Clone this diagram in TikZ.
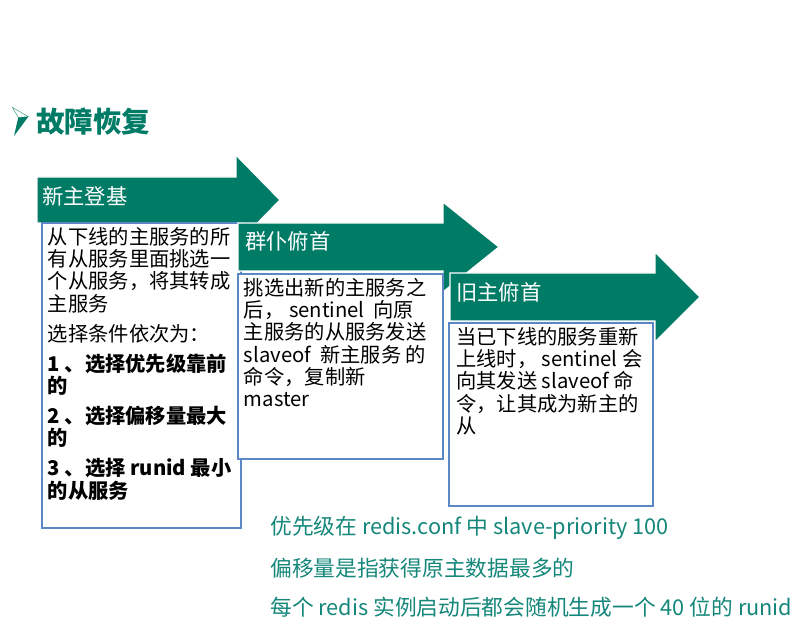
\documentclass[tikz,border=0pt]{standalone}
\usepackage{fontspec}
\setmainfont{Noto Sans CJK SC}
\usepackage{tikz}
\usetikzlibrary{positioning}

\definecolor{stagegreen}{HTML}{007B65}
\definecolor{notegreen}{HTML}{15877A}
\definecolor{boxblue}{HTML}{5B87C4}

\begin{document}
\begin{tikzpicture}
  [x=0.75pt,y=-0.75pt,
   stagearrow/.style={fill=stagegreen,draw=white,line width=1pt},
   stagelabel/.style={anchor=west,inner sep=0pt,text=white,font=\fontsize{16}{19}\selectfont},
   cardbox/.style={draw=boxblue,fill=white,line width=1.5pt,anchor=north west,inner sep=0pt},
   cardtext/.style={align=left,inner sep=0pt,font=\fontsize{15.2}{16.6}\selectfont},
   note/.style={anchor=west,inner sep=0pt,text=notegreen,font=\fontsize{16.3}{19}\selectfont}]

  \useasboundingbox (0,0) rectangle (802,623);

  % title with bullet
  \filldraw[draw=stagegreen!70,fill=white,line width=0.4pt] (12.3,107.3) -- (28.3,116.7) -- (18.3,117.5) -- cycle;
  \fill[stagegreen] (18.3,117.5) -- (28.3,116.7) -- (14,136) -- cycle;
  \node[anchor=west,inner sep=0pt,text=stagegreen,font=\fontsize{21.4}{24}\selectfont\bfseries] (title) at (36,122) {故障恢复};

  % stage 1
  \draw[stagearrow] (37,177) -- (236,177) -- (236,155) -- (280,200) -- (236,245) -- (236,223) -- (37,223) -- cycle;
  \node[stagelabel] (h1) at (42,196) {新主登基};
  \node[cardbox,minimum width=149.25pt,minimum height=228.75pt] (b1) at (41,222) {};
  \node[cardtext,below right=4pt and 5pt of b1.north west] (t1)
    {从下线的主服务的所\\有从服务里面挑选一\\个从服务，将其转成\\主服务\\[6pt]
     选择条件依次为：\\[6pt]
     \textbf{1 、选择优先级靠前}\\\textbf{的}\\[6pt]
     \textbf{2 、选择偏移量最大}\\\textbf{的}\\[6pt]
     \textbf{3 、选择 runid 最小}\\\textbf{的从服务}};

  % stage 2
  \draw[stagearrow] (238,223) -- (443,223) -- (443,202) -- (499,247) -- (443,292) -- (443,271) -- (238,271) -- cycle;
  \node[stagelabel] (h2) at (245,241) {群仆俯首};
  \node[cardbox,minimum width=153.75pt,minimum height=138.75pt] (b2) at (237,273) {};
  \node[cardtext,below right=4pt and 5pt of b2.north west] (t2)
    {挑选出新的主服务之\\后， sentinel\ \ 向原\\主服务的从服务发送\\slaveof\ \ 新主服务 的\\命令，复制新\\master};

  % stage 3
  \draw[stagearrow] (450,273) -- (655,273) -- (655,252) -- (700,297) -- (655,342) -- (655,321) -- (450,321) -- cycle;
  \node[stagelabel] (h3) at (456,292) {旧主俯首};
  \node[cardbox,minimum width=153pt,minimum height=137.25pt] (b3) at (448,322) {};
  \node[cardtext,below right=4pt and 6pt of b3.north west] (t3)
    {当已下线的服务重新\\上线时， sentinel 会\\向其发送 slaveof 命\\令，让其成为新主的\\从};

  % notes
  \node[note] (n1) at (270,528) {优先级在 redis.conf 中 slave-priority 100};
  \node[note] (n2) at (270,568) {偏移量是指获得原主数据最多的};
  \node[note] (n3) at (270,607) {每个 redis 实例启动后都会随机生成一个 40 位的 runid};
\end{tikzpicture}
\end{document}
